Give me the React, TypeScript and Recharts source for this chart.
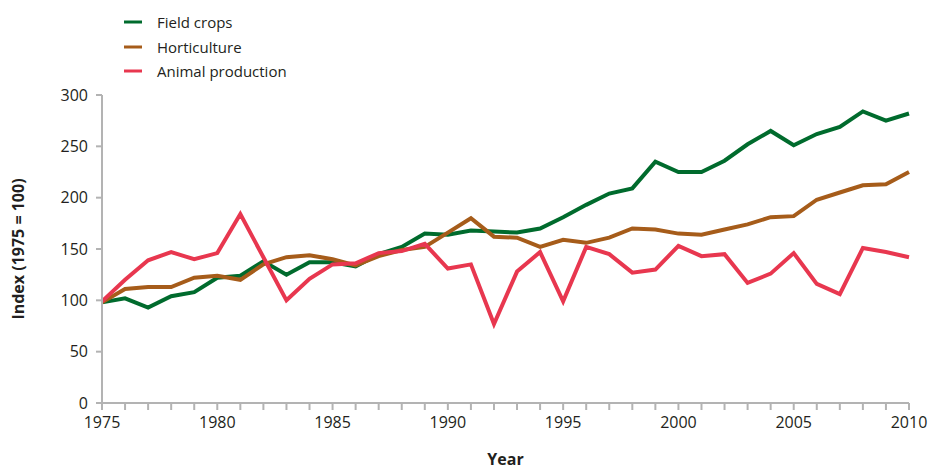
import React from 'react';
import { LineChart, Line, XAxis, YAxis } from 'recharts';

const years = [1975,1976,1977,1978,1979,1980,1981,1982,1983,1984,1985,1986,1987,1988,1989,1990,1991,1992,1993,1994,1995,1996,1997,1998,1999,2000,2001,2002,2003,2004,2005,2006,2007,2008,2009,2010];
const fieldCrops = [98,102,93,104,108,122,124,138,125,137,137,133,145,152,165,164,168,167,166,170,181,193,204,209,235,225,225,236,252,265,251,262,269,284,275,282];
const horticulture = [98,111,113,113,122,124,120,135,142,144,140,134,143,149,152,166,180,162,161,152,159,156,161,170,169,165,164,169,174,181,182,198,205,212,213,225];
const animalProduction = [99,120,139,147,140,146,184,142,100,121,135,136,146,148,155,131,135,77,128,147,99,152,145,127,130,153,143,145,117,126,146,116,106,151,147,142];
const yTicks = [0,50,100,150,200,250,300];
const labelYears = [1975,1980,1985,1990,1995,2000,2005,2010];

const seriesNames = ['Field crops','Horticulture','Animal production'];
const seriesColors = ['#006b2d','#a65c1a','#e8374f'];

const data = years.map((y, i) => ({
  year: y,
  field: fieldCrops[i],
  hort: horticulture[i],
  animal: animalProduction[i],
}));

const FONT = '"Open Sans", "Noto Sans", sans-serif';
const TEXT = '#231f20';
const AXIS = '#b3b3b3';

const LegendBox = () => (
  <div style={{ position: 'absolute', left: 124, top: 10, fontFamily: FONT, fontSize: 15, color: TEXT }}>
    {seriesNames.map((n, i) => (
      <div key={n} style={{ display: 'flex', alignItems: 'center', height: 24.5 }}>
        <svg width={18} height={4} style={{ marginRight: 15 }}>
          <line x1={0} y1={2} x2={18} y2={2} stroke={seriesColors[i]} strokeWidth={3} />
        </svg>
        <span>{n}</span>
      </div>
    ))}
  </div>
);

export default function App() {
  return (
    <div style={{ position: 'absolute', left: 0, top: 0, width: 932, height: 469, background: '#fff' }}>
      <LineChart width={932} height={469} data={data} margin={{ top: 95, right: 23, left: 0, bottom: 0 }}>
        <XAxis
          dataKey="year"
          type="number"
          domain={[1975, 2010]}
          ticks={years}
          interval={0}
          tickFormatter={(v) => (labelYears.includes(v) ? String(v) : '')}
          stroke={AXIS}
          strokeWidth={2}
          tickSize={7}
          tick={{ fill: TEXT, fontSize: 16, fontFamily: FONT }}
          tickMargin={7}
          height={66}
          label={{ value: 'Year', position: 'insideBottom', offset: 4, style: { fill: TEXT, fontSize: 16, fontWeight: 700, fontFamily: FONT } }}
        />
        <YAxis
          type="number"
          domain={[0, 300]}
          ticks={yTicks}
          interval={0}
          width={102}
          stroke={AXIS}
          strokeWidth={2}
          tickSize={6}
          tick={{ fill: TEXT, fontSize: 16, fontFamily: FONT }}
          tickMargin={8}
          label={{ value: 'Index (1975 = 100)', angle: -90, position: 'insideLeft', offset: 18, style: { textAnchor: 'middle', fill: TEXT, fontSize: 16, fontWeight: 700, fontFamily: FONT } }}
        />
        <Line type="linear" dataKey="field" name={seriesNames[0]} stroke={seriesColors[0]} strokeWidth={4} dot={false} isAnimationActive={false} />
        <Line type="linear" dataKey="hort" name={seriesNames[1]} stroke={seriesColors[1]} strokeWidth={4} dot={false} isAnimationActive={false} />
        <Line type="linear" dataKey="animal" name={seriesNames[2]} stroke={seriesColors[2]} strokeWidth={4} dot={false} isAnimationActive={false} />
      </LineChart>
      <LegendBox />
    </div>
  );
}
